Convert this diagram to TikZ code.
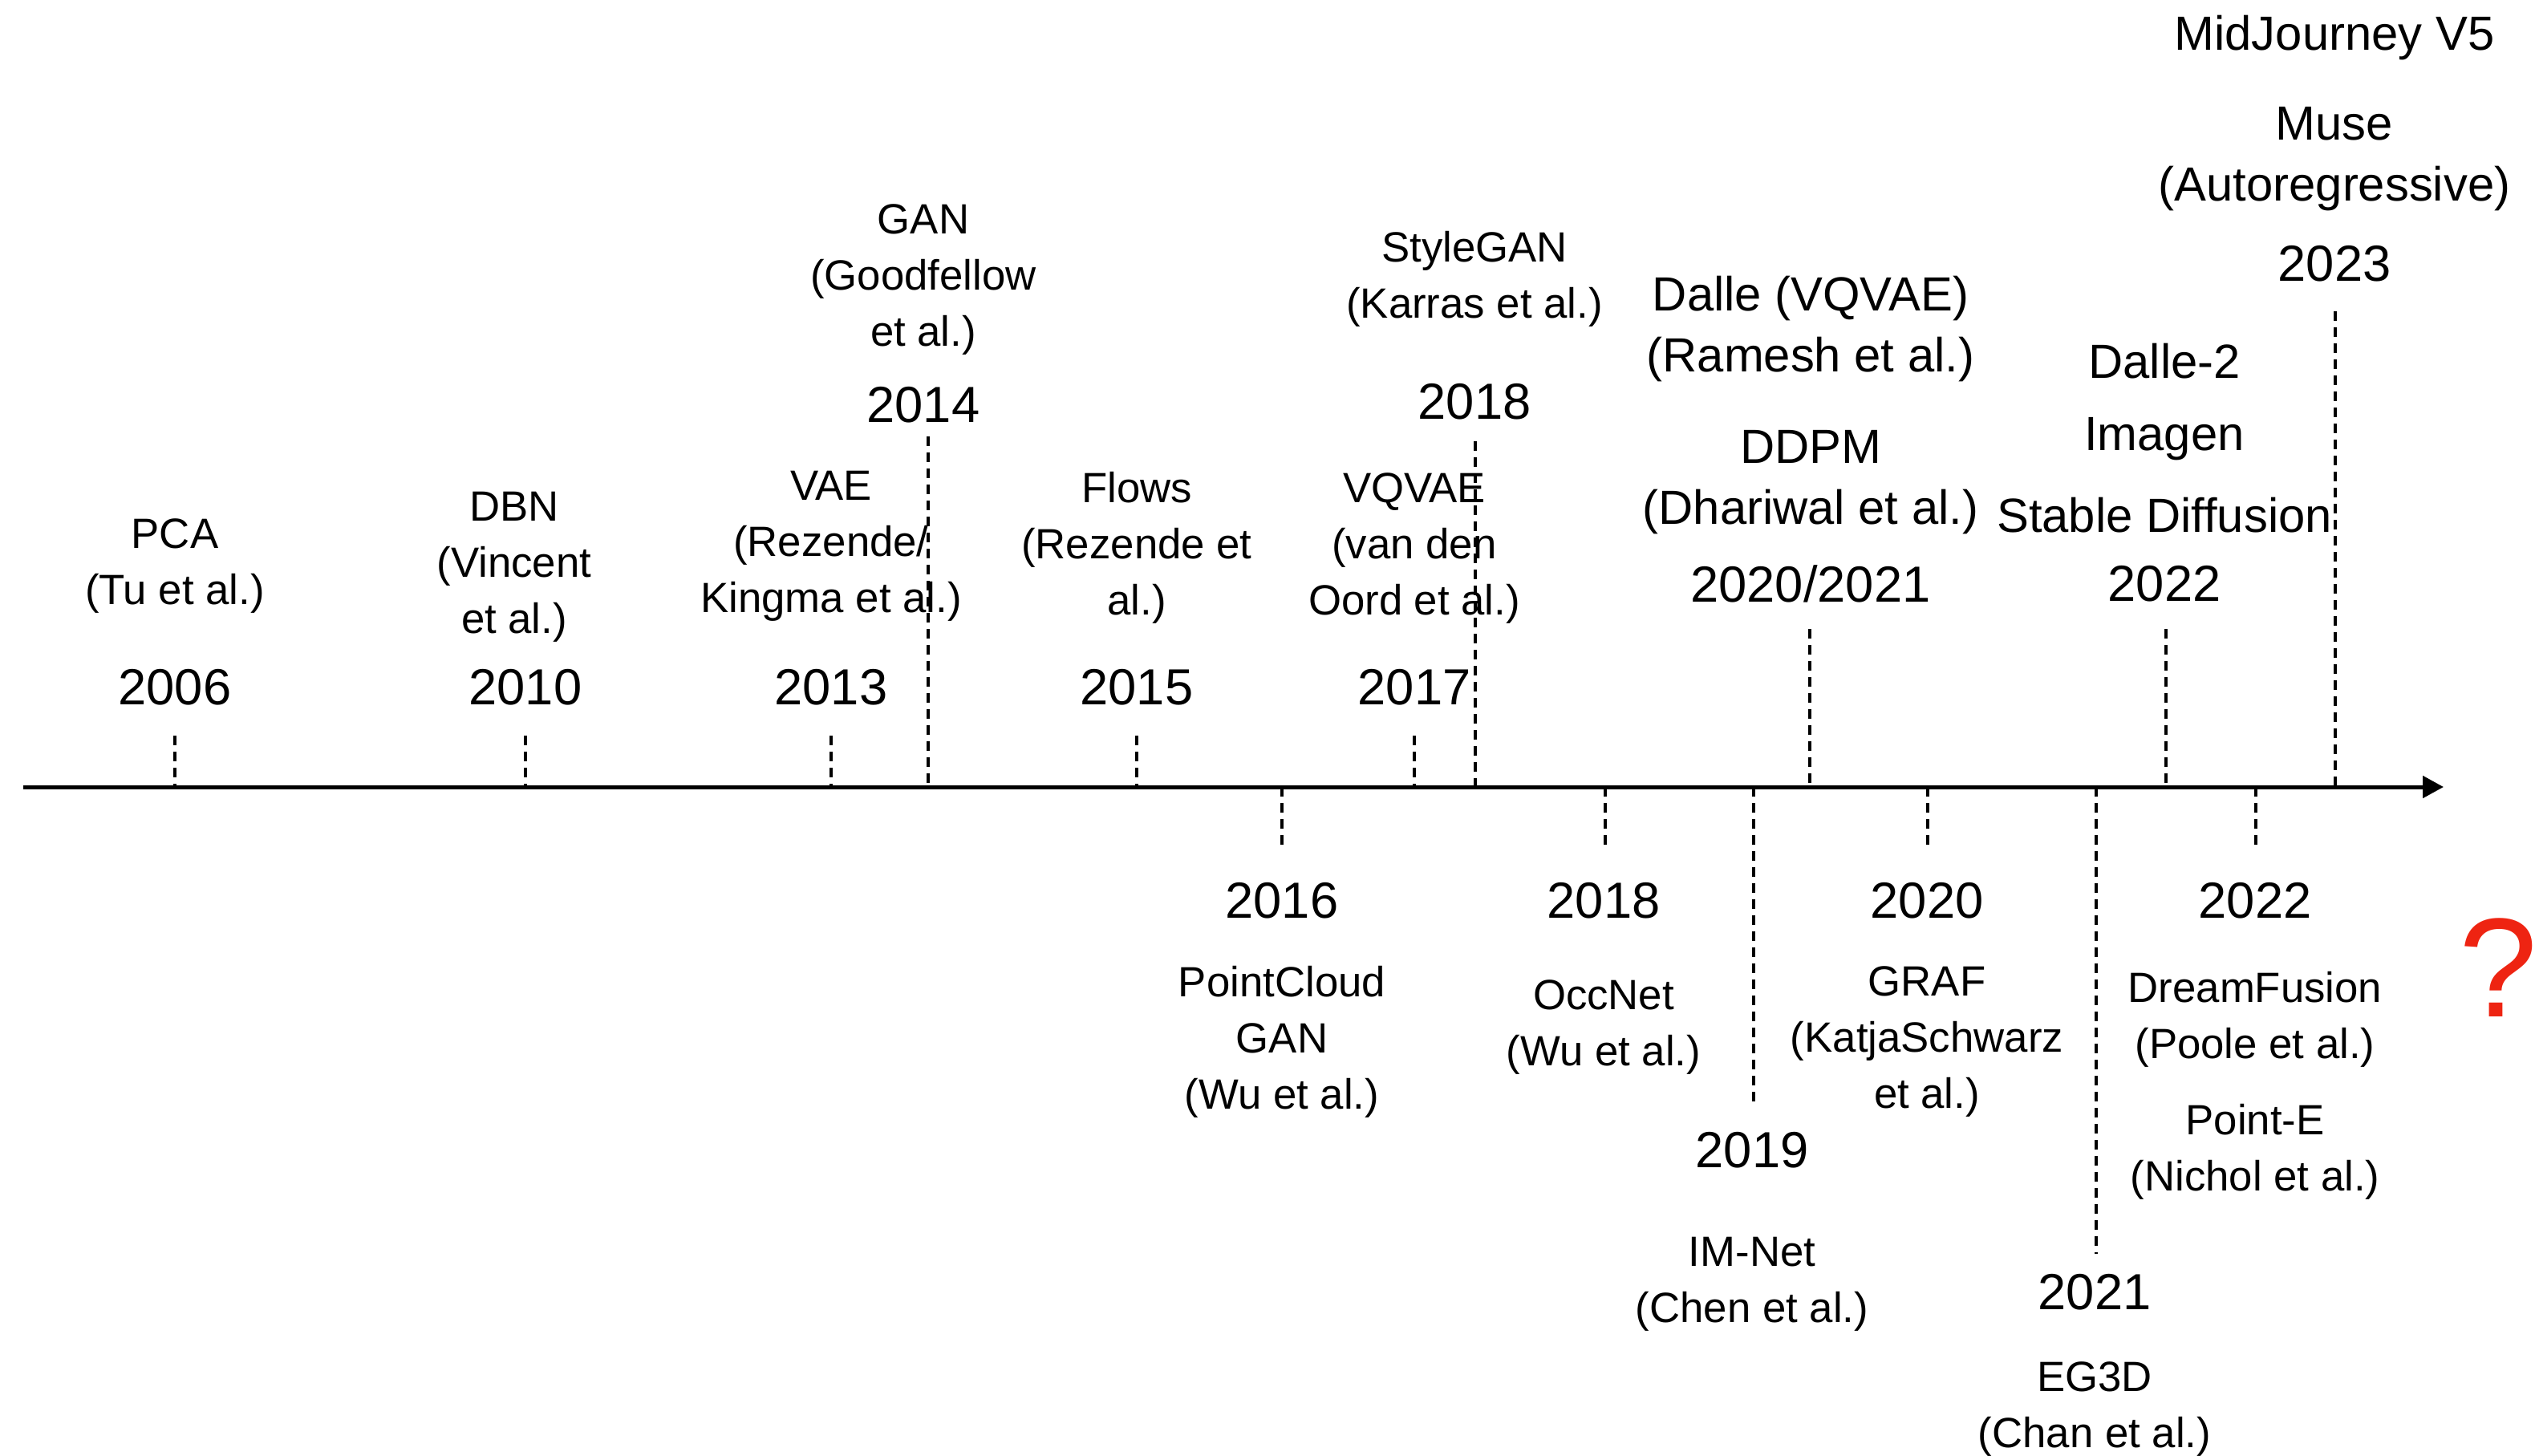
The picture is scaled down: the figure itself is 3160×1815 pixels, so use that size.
\documentclass[tikz,border=0pt]{standalone}
\usepackage{fontspec}
\setmainfont{Liberation Sans}
\usetikzlibrary{arrows.meta}
\definecolor{qred}{RGB}{238,36,18}
\begin{document}
\begin{tikzpicture}[x=0.01cm,y=-0.01cm,
  lab/.style={align=center,font=\fontsize{15}{19.9}\selectfont,inner sep=0pt,yshift=-0.06cm},
  labL/.style={align=center,font=\fontsize{17}{21.8}\selectfont,inner sep=0pt,yshift=-0.07cm},
  yr/.style={font=\fontsize{18}{22}\selectfont,inner sep=0pt,yshift=-0.03cm},
  tickline/.style={line width=0.042cm,dash pattern=on 0.12cm off 0.08cm},
  axisline/.style={line width=0.05cm,-{Triangle[length=0.26cm,width=0.27cm]}}]
\useasboundingbox (0,0) rectangle (3160,1815);

% axis
\coordinate (axs) at (29,981);
\coordinate (axe) at (3046,981);
\draw[axisline] (axs) -- (axe);

% top ticks
\coordinate (a06) at (218,917);   \coordinate (b06) at (218,981);
\coordinate (a10) at (655,917);   \coordinate (b10) at (655,981);
\coordinate (a13) at (1036,917);  \coordinate (b13) at (1036,981);
\coordinate (a14) at (1157,544);  \coordinate (b14) at (1157,981);
\coordinate (a15) at (1417,917);  \coordinate (b15) at (1417,981);
\coordinate (a17) at (1763,917);  \coordinate (b17) at (1763,981);
\coordinate (a18) at (1839,550);  \coordinate (b18) at (1839,981);
\coordinate (a2021) at (2256,784); \coordinate (b2021) at (2256,981);
\coordinate (a22) at (2700,784);  \coordinate (b22) at (2700,981);
\coordinate (a23) at (2911,388);  \coordinate (b23) at (2911,981);
\foreach \t in {06,10,13,14,15,17,18,2021,22,23}
  \draw[tickline] (a\t) -- (b\t);

% bottom ticks
\coordinate (c16) at (1598,981);  \coordinate (d16) at (1598,1057);
\coordinate (c18) at (2001,981);  \coordinate (d18) at (2001,1057);
\coordinate (c19) at (2186,981);  \coordinate (d19) at (2186,1378);
\coordinate (c20) at (2403,981);  \coordinate (d20) at (2403,1057);
\coordinate (c21) at (2613,981);  \coordinate (d21) at (2613,1563);
\coordinate (c22) at (2812,981);  \coordinate (d22) at (2812,1057);
\foreach \t in {16,18,19,20,21,22}
  \draw[tickline] (c\t) -- (d\t);

% top labels
\node[lab] (pca) at (218,700) {PCA\\(Tu et al.)};
\node[yr] (y06) at (218,854) {2006};
\node[lab] (dbn) at (641,701) {DBN\\(Vincent\\et al.)};
\node[yr] (y10) at (655,854) {2010};
\node[lab] (vae) at (1036,675) {VAE\\(Rezende/\\Kingma et al.)};
\node[yr] (y13) at (1036,854) {2013};
\node[lab] (gan) at (1151,343) {GAN\\(Goodfellow\\et al.)};
\node[yr] (y14) at (1151,502) {2014};
\node[lab] (flows) at (1417,677) {Flows\\(Rezende et\\al.)};
\node[yr] (y15) at (1417,854) {2015};
\node[lab] (vqvae) at (1763,678) {VQVAE\\(van den\\Oord et al.)};
\node[yr] (y17) at (1763,854) {2017};
\node[lab] (stylegan) at (1838,342) {StyleGAN\\(Karras et al.)};
\node[yr] (y18t) at (1838,498) {2018};
\node[labL] (dalle) at (2257,403) {Dalle (VQVAE)\\(Ramesh et al.)};
\node[labL] (ddpm) at (2257,594) {DDPM\\(Dhariwal et al.)};
\node[yr] (y2021) at (2257,725) {2020/2021};
\node[labL] (dalle2) at (2698,443) {Dalle-2};
\node[labL] (imagen) at (2698,540) {Imagen};
\node[labL] (sd) at (2698,635) {Stable Diffusion};
\node[yr] (y22t) at (2698,725) {2022};
\node[labL] (mj) at (2910,40) {MidJourney V5};
\node[labL] (muse) at (2910,191) {Muse\\(Autoregressive)};
\node[yr] (y23) at (2910,326) {2023};

% bottom labels
\node[yr] (y16) at (1598,1120) {2016};
\node[lab] (pcgan) at (1598,1293) {PointCloud\\GAN\\(Wu et al.)};
\node[yr] (y18b) at (1999,1120) {2018};
\node[lab] (occnet) at (1999,1275) {OccNet\\(Wu et al.)};
\node[yr] (y19) at (2184,1431) {2019};
\node[lab] (imnet) at (2184,1595) {IM-Net\\(Chen et al.)};
\node[yr] (y20) at (2402,1120) {2020};
\node[lab] (graf) at (2402,1293) {GRAF\\(KatjaSchwarz\\et al.)};
\node[yr] (y21) at (2611,1608) {2021};
\node[lab] (eg3d) at (2611,1751) {EG3D\\(Chan et al.)};
\node[yr] (y22b) at (2811,1120) {2022};
\node[lab] (dreamf) at (2811,1265) {DreamFusion\\(Poole et al.)};
\node[lab] (pointe) at (2811,1430) {Point-E\\(Nichol et al.)};

% question mark
\node[text=qred,font=\fontsize{50}{60}\selectfont,inner sep=0pt] (qm) at (3114,1206) {?};
\end{tikzpicture}
\end{document}
